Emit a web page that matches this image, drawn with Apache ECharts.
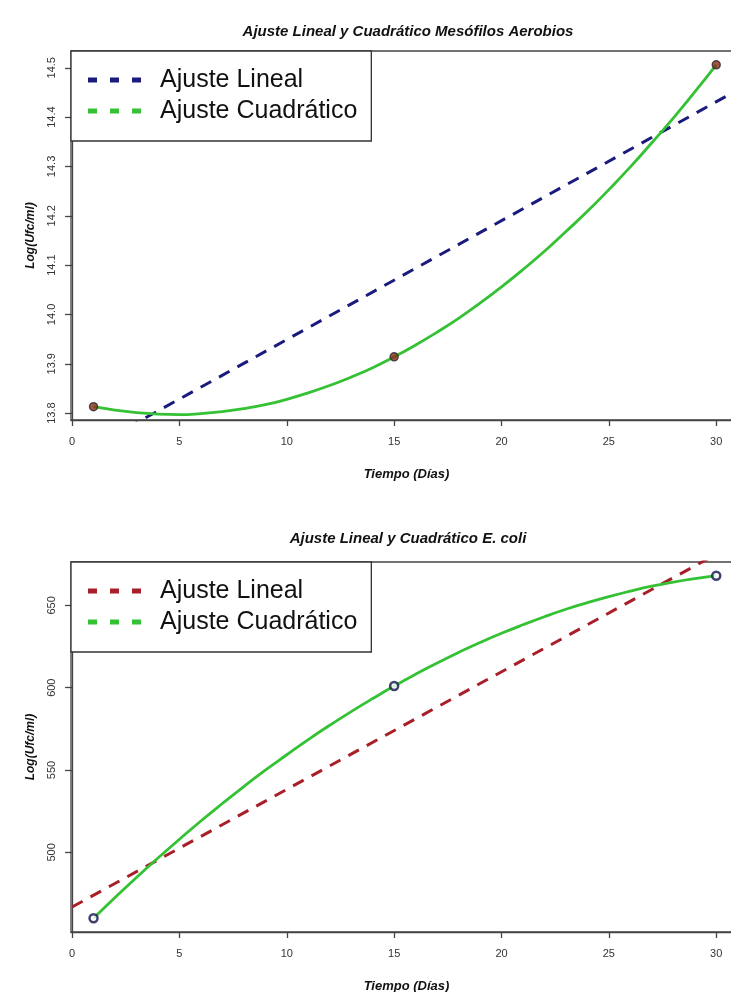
<!DOCTYPE html>
<html>
<head>
<meta charset="utf-8">
<script src="https://cdn.jsdelivr.net/npm/echarts@6/dist/echarts.min.js"></script>
<style>
html,body{margin:0;padding:0;background:#fff;}
#chart{width:731px;height:992px;}
</style>
</head>
<body>
<div id="chart"></div>
<script>
// ---- Data ----
const titles = ['Ajuste Lineal y Cuadrático Mesófilos Aerobios', 'Ajuste Lineal y Cuadrático E. coli'];
const xTicks = [0, 5, 10, 15, 20, 25, 30];
const yTicksTop = [13.8, 13.9, 14.0, 14.1, 14.2, 14.3, 14.4, 14.5];
const yTicksBottom = [500, 550, 600, 650];

// observed points (day, log ufc/ml)
const obsDays = [1, 15, 30];
const obsTop = [13.813, 13.914, 14.506];
const obsBottom = [460, 601, 668];

// linear fit line (spans whole plot, end values)
const linDays = [0, 31.2];
const linTop = [13.708, 14.460];
const linBottom = [466.9, 689.6];

// quadratic fit curve
const quadDays = [1, 2, 3, 4, 5, 6, 7, 8, 9, 10, 11, 12, 13, 14, 15, 16, 17, 18, 19, 20, 21, 22, 23, 24, 25, 26, 27, 28, 29, 30];
const quadTop = [13.813, 13.806, 13.801, 13.798, 13.797, 13.799, 13.803, 13.809, 13.817, 13.828, 13.841, 13.856, 13.873, 13.892, 13.914,
                 13.938, 13.964, 13.992, 14.023, 14.056, 14.091, 14.128, 14.168, 14.209, 14.253, 14.299, 14.348, 14.398, 14.451, 14.506];
const quadBottom = [460, 472.6, 484.8, 496.6, 508.0, 519.1, 529.7, 540.0, 549.9, 559.3, 568.5, 577.2, 585.5, 593.4, 601,
                    608.2, 615.0, 621.4, 627.4, 633.0, 638.2, 643.1, 647.6, 651.6, 655.3, 658.6, 661.6, 664.1, 666.2, 668];

const legendNames = ['Ajuste Lineal', 'Ajuste Cuadrático'];

// ---- Styles ----
const FONT = '"Liberation Sans", Arial, sans-serif';
const GREEN = '#34c234';
const BLUE = '#1b1b7d';
const RED = '#a81f2a';
const dashIcon = 'path://M0,0h9v5h-9z M22,0h9v5h-9z M44,0h9v5h-9z';

function zip(a, b) { return a.map((v, i) => [v, b[i]]); }

const grids = [
  { left: 71, top: 51, width: 671, height: 369 },
  { left: 71, top: 562, width: 671, height: 370 }
];
const yRanges = [[13.786, 14.534], [451.7, 676.3]];
const yTickSets = [yTicksTop, yTicksBottom];
const lineColors = [BLUE, RED];
const linData = [linTop, linBottom];
const quadData = [quadTop, quadBottom];
const obsData = [obsTop, obsBottom];

const titleStyle = { fontFamily: FONT, fontSize: 15, fontWeight: 'bold', fontStyle: 'italic', color: '#111' };

const option = {
  backgroundColor: '#fff',
  animation: false,
  title: [
    { text: titles[0], left: 403, top: 19, textAlign: 'center', textStyle: titleStyle },
    { text: titles[1], left: 403, top: 526, textAlign: 'center', textStyle: titleStyle }
  ],
  grid: grids.map(g => Object.assign({ show: true, borderColor: '#444', borderWidth: 1.3, backgroundColor: 'transparent',
                                       containLabel: false, outerBoundsMode: 'none' }, g)),
  legend: [0, 1].map(i => ({
    left: 71, top: i === 0 ? 51 : 562,
    orient: 'vertical',
    backgroundColor: '#fff',
    borderColor: '#333', borderWidth: 1.3, borderRadius: 0,
    padding: [16, 14, 17, 17],
    itemGap: 5,
    itemWidth: 53, itemHeight: 5,
    selectedMode: false,
    textStyle: { fontFamily: FONT, fontSize: 25, color: '#111', lineHeight: 26, padding: [0, 0, 0, 14] },
    data: [
      { name: legendNames[0], icon: dashIcon, itemStyle: { color: lineColors[i], borderWidth: 0 } },
      { name: legendNames[1], icon: dashIcon, itemStyle: { color: GREEN, borderWidth: 0 } }
    ]
  })),
  xAxis: [0, 1].map(i => ({
    type: 'value', gridIndex: i, min: -0.05, max: 31.2,
    name: 'Tiempo (Días)', nameLocation: 'middle', nameGap: 48,
    nameTextStyle: { fontFamily: FONT, fontSize: 13, fontWeight: 'bold', fontStyle: 'italic', color: '#111' },
    axisLine: { show: true, lineStyle: { color: '#444', width: 1.3 } },
    axisTick: { show: true, length: 6, inside: false, customValues: xTicks, lineStyle: { color: '#444', width: 1.3 } },
    axisLabel: { customValues: xTicks, margin: 16, fontFamily: FONT, fontSize: 11, color: '#333' },
    splitLine: { show: false }
  })),
  yAxis: [0, 1].map(i => ({
    type: 'value', gridIndex: i, min: yRanges[i][0], max: yRanges[i][1],
    name: 'Log(Ufc/ml)', nameLocation: 'middle', nameGap: 34, nameRotate: 90,
    nameTextStyle: { fontFamily: FONT, fontSize: 12, fontWeight: 'bold', fontStyle: 'italic', color: '#111' },
    axisLine: { show: true, lineStyle: { color: '#444', width: 1.3 } },
    axisTick: { show: true, length: 7, inside: false, customValues: yTickSets[i], lineStyle: { color: '#444', width: 1.3 } },
    axisLabel: { customValues: yTickSets[i], rotate: 90, margin: 14, fontFamily: FONT, fontSize: 11, color: '#333',
                 formatter: v => (i === 0 ? v.toFixed(1) : String(v)) },
    splitLine: { show: false }
  })),
  series: []
};

[0, 1].forEach(i => {
  option.series.push({
    name: legendNames[0], type: 'line', xAxisIndex: i, yAxisIndex: i,
    data: zip(linDays, linData[i]), symbol: 'none', clip: true, z: 3,
    lineStyle: { color: lineColors[i], width: 3, type: [12, 9] }
  });
  option.series.push({
    name: legendNames[1], type: 'line', xAxisIndex: i, yAxisIndex: i,
    data: zip(quadDays, quadData[i]), symbol: 'none', smooth: true, clip: true, z: 4,
    lineStyle: { color: GREEN, width: 2.8 }
  });
  option.series.push({
    name: 'obs' + i, type: 'scatter', xAxisIndex: i, yAxisIndex: i,
    data: zip(obsDays, obsData[i]), symbol: 'circle', symbolSize: 8, z: 5,
    itemStyle: i === 0 ? { color: '#8b2a1a', borderColor: '#2a2a2a', borderWidth: 1.5 }
                       : { color: '#ffffff', borderColor: '#12124a', borderWidth: 2.5 }
  });
});

const chart = echarts.init(document.getElementById('chart'), null, { renderer: 'canvas' });
chart.setOption(option);
</script>
</body>
</html>
